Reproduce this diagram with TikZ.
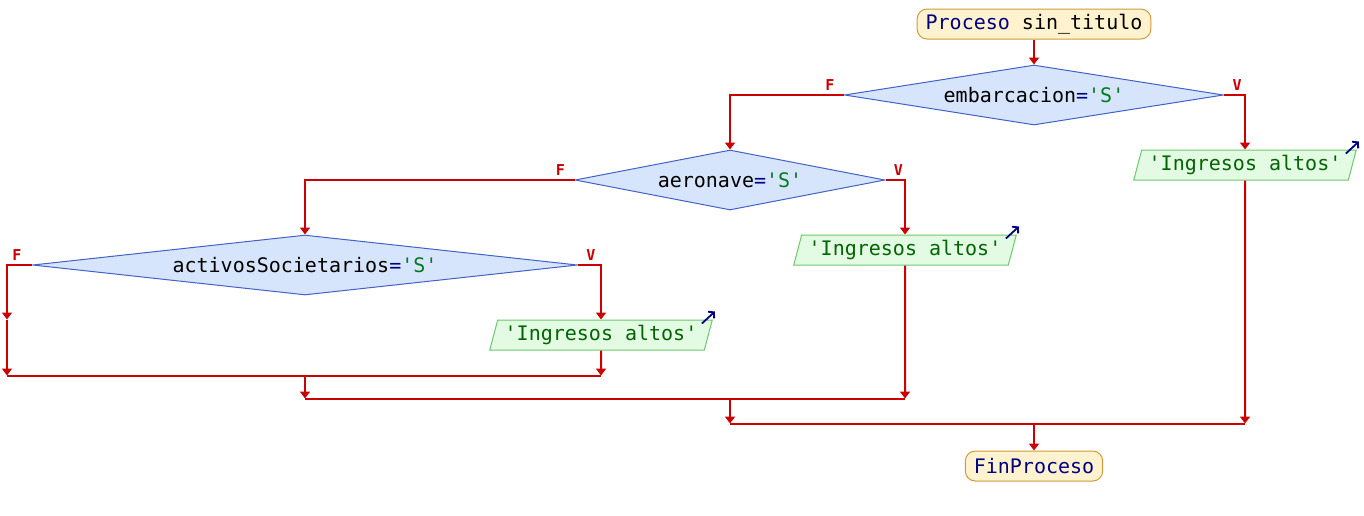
\documentclass[tikz,border=0pt]{standalone}
\usepackage{fontspec}
\setmonofont{DejaVu Sans Mono}
\usepackage{xcolor}
\usepackage{tikz}
\usetikzlibrary{shapes.geometric, positioning, arrows.meta}

\definecolor{flowred}{HTML}{CC0000}
\definecolor{navy}{HTML}{000080}
\definecolor{strgreen}{HTML}{007A20}
\definecolor{condfill}{HTML}{D6E4FC}
\definecolor{condline}{HTML}{4461C8}
\definecolor{outfill}{HTML}{E2FBE2}
\definecolor{outline}{HTML}{6CC86C}
\definecolor{outtext}{HTML}{006400}
\definecolor{termfill}{HTML}{FFF2CE}
\definecolor{termline}{HTML}{D09A3C}

\newcommand{\cmpop}{\textcolor{navy}{=}}
\newcommand{\strlit}[1]{\textcolor{strgreen}{#1}}

\tikzset{
  term/.style={rectangle, rounded corners=10pt, draw=termline, fill=termfill, line width=1pt,
    minimum height=30pt, inner xsep=8.5pt, inner ysep=0pt, text=navy},
  cond/.style={diamond, draw=condline, fill=condfill, line width=1pt, inner sep=0pt, minimum height=60pt},
  outbox/.style={trapezium, trapezium left angle=68, trapezium right angle=112, trapezium stretches=true,
    draw=outline, fill=outfill, line width=1pt, minimum height=30pt, inner xsep=7pt, inner ysep=0pt,
    text=outtext},
  flow/.style={draw=flowred, line width=2pt, -{Triangle[width=10pt,length=7pt]}},
  joinline/.style={draw=flowred, line width=2pt},
  lbl/.style={text=flowred, font=\ttfamily\bfseries\fontsize{15}{17}\selectfont, inner sep=0pt},
  outarrow/.style={draw=navy, line width=1.8pt, -{Straight Barb[length=4pt,width=9pt]}}
}

\begin{document}
\begin{tikzpicture}[x=1pt, y=-1pt, on grid, font=\ttfamily\fontsize{20}{24}\selectfont]
  \useasboundingbox (0,0) rectangle (1364,515);

  % terminals and decisions
  \node[term] (inicio) at (1034,24) {Proceso \textcolor{black}{sin\_titulo}};
  \node[cond, minimum width=379pt, aspect=6.3] (d1) [below=71pt of inicio] {embarcacion\cmpop\strlit{'S'}};
  \node[cond, minimum width=310pt, aspect=5.2] (d2) [below left=85pt and 304pt of d1] {aeronave\cmpop\strlit{'S'}};
  \node[cond, minimum width=545pt, aspect=9.1] (d3) [below left=85pt and 425pt of d2] {activosSocietarios\cmpop\strlit{'S'}};

  % outputs
  \node[outbox] (o1) [below right=70pt and 211pt of d1] {'Ingresos altos'};
  \node[outbox] (o2) [below right=70pt and 175pt of d2] {'Ingresos altos'};
  \node[outbox] (o3) [below right=70pt and 296pt of d3] {'Ingresos altos'};

  % join points
  \coordinate[left=25pt of d3.west] (f3);
  \coordinate (e3) at (f3 |- o3.north);
  \coordinate[below=25pt of o3.south] (m3r);
  \coordinate (m3l) at (f3 |- m3r);
  \coordinate (m3) at (d3 |- m3r);
  \coordinate[below=23pt of m3] (m2l);
  \coordinate (m2r) at (o2 |- m2l);
  \coordinate (m2) at (d2 |- m2l);
  \coordinate[below=25pt of m2] (m1l);
  \coordinate (m1r) at (o1 |- m1l);
  \coordinate (m1) at (d1 |- m1l);

  \node[term, anchor=north] (fin) at ([yshift=-27pt]m1) {FinProceso};

  % branch labels
  \node[lbl, above left=10pt and 14pt of d1.west, anchor=center] (d1f) {F};
  \node[lbl, above right=10pt and 13pt of d1.east, anchor=center] (d1v) {V};
  \node[lbl, above left=10pt and 14pt of d2.west, anchor=center] (d2f) {F};
  \node[lbl, above right=10pt and 13pt of d2.east, anchor=center] (d2v) {V};
  \node[lbl, above left=10pt and 15pt of d3.west, anchor=center] (d3f) {F};
  \node[lbl, above right=10pt and 13pt of d3.east, anchor=center] (d3v) {V};

  % connectors
  \draw[flow] (inicio) -- (d1);
  \draw[flow] (d1.west) -| (d2.north);
  \draw[flow] (d1.east) -| (o1.north);
  \draw[flow] (d2.west) -| (d3.north);
  \draw[flow] (d2.east) -| (o2.north);
  \draw[flow] (d3.west) -| (e3);
  \draw[flow] (e3) -- (m3l);
  \draw[flow] (d3.east) -| (o3.north);
  \draw[flow] (o3) -- (m3r);
  \draw[joinline] (m3l) -- (m3r);
  \draw[flow] (m3) -- (m2l);
  \draw[flow] (o2) -- (m2r);
  \draw[joinline] (m2l) -- (m2r);
  \draw[flow] (m2) -- (m1l);
  \draw[flow] (o1) -- (m1r);
  \draw[joinline] (m1l) -- (m1r);
  \draw[flow] (m1) -- (fin);

  % output marks
  \draw[outarrow] (o1.top right corner) ++(-11,4) -- ++(13,-12);
  \draw[outarrow] (o2.top right corner) ++(-11,4) -- ++(13,-12);
  \draw[outarrow] (o3.top right corner) ++(-11,4) -- ++(13,-12);
\end{tikzpicture}
\end{document}
